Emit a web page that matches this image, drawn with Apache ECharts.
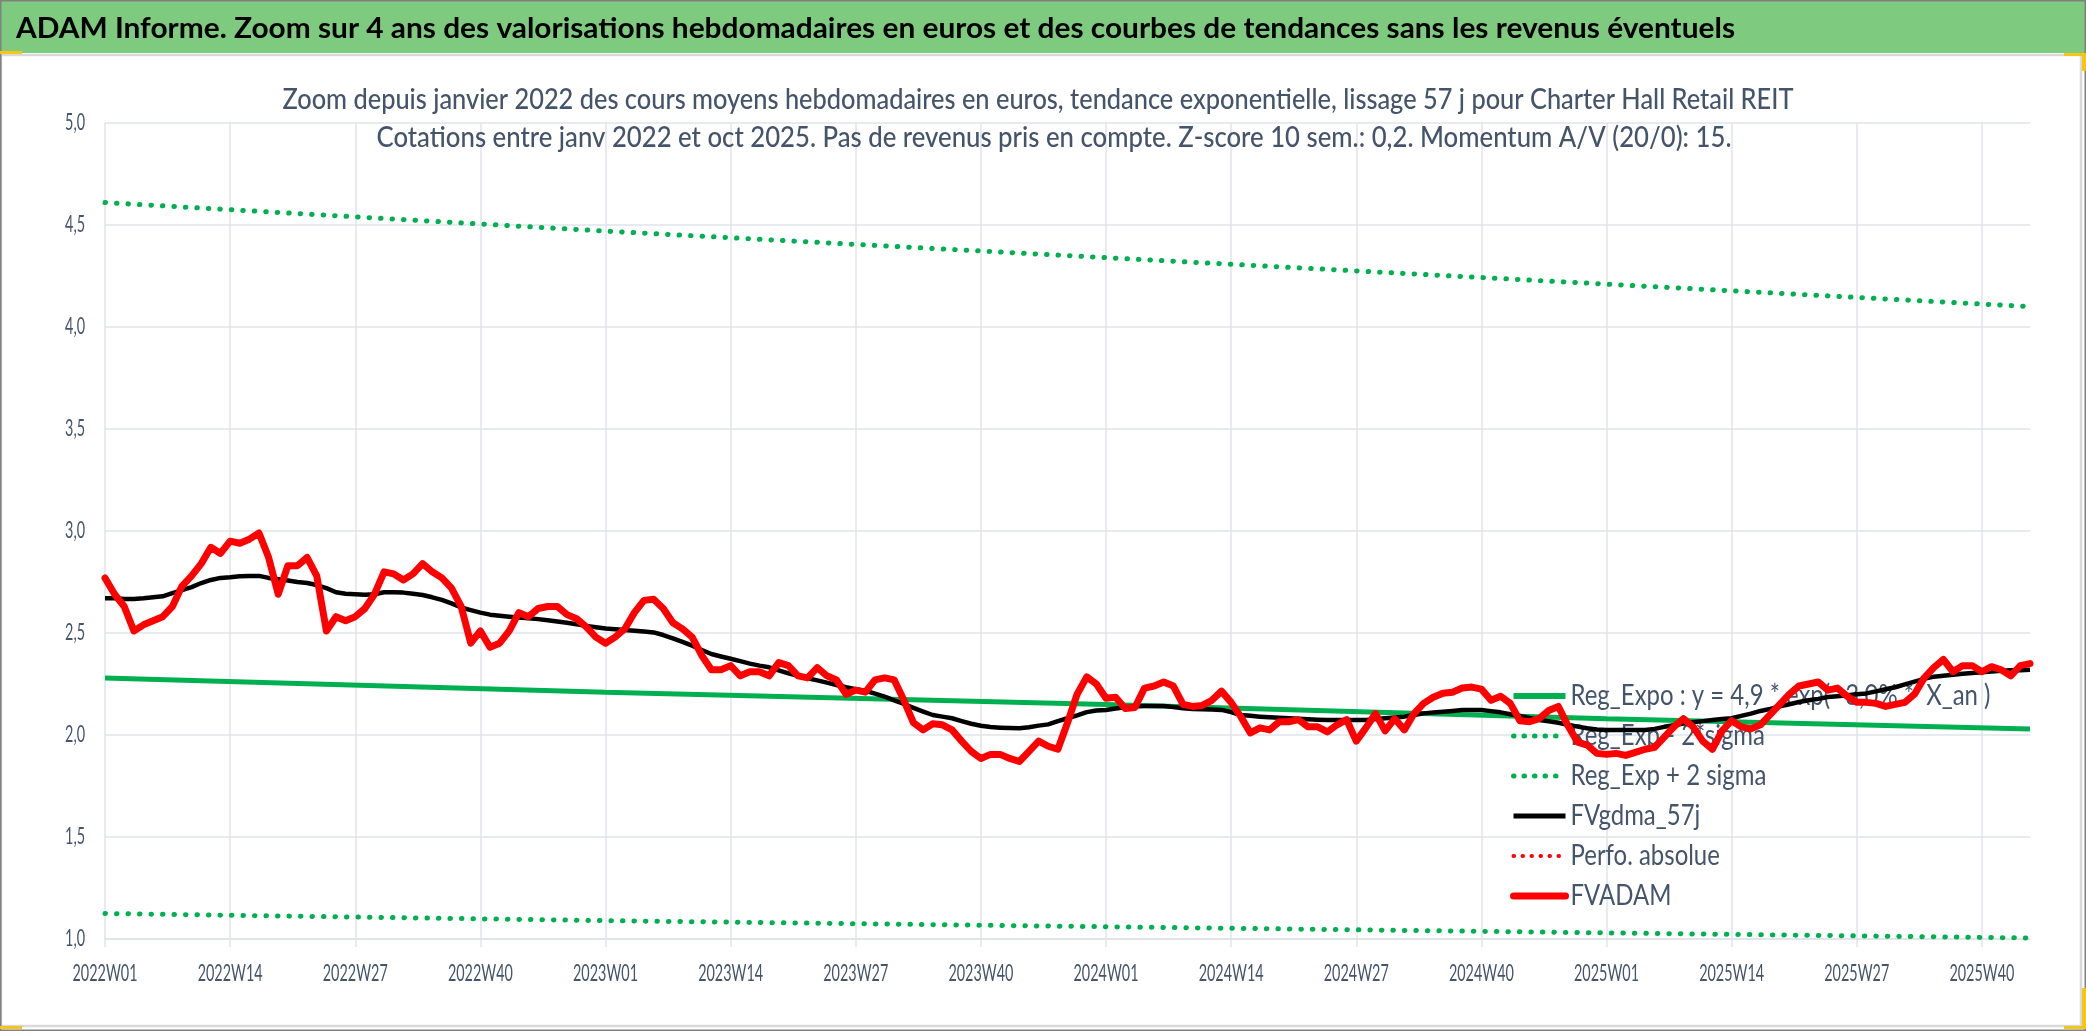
<!DOCTYPE html>
<html>
<head>
<meta charset="utf-8">
<script src="https://cdn.jsdelivr.net/npm/echarts@6/dist/echarts.min.js"></script>
<style>html,body{margin:0;padding:0;background:#fff;overflow:hidden}#c{width:2086px;height:1031px}</style>
</head>
<body>
<div id="c"></div>
<script>
// ---------- data ----------
const years = [2022, 2023, 2024, 2025];
const weeksInYear = [52, 52, 52, 45];

const fvadam = [
 2.77,2.69,2.63,2.51,2.54,2.56,2.58,2.63,2.73,2.78,
 2.84,2.92,2.89,2.95,2.94,2.96,2.99,2.87,2.69,2.83,
 2.83,2.87,2.78,2.51,2.58,2.56,2.58,2.62,2.69,2.80,
 2.79,2.76,2.79,2.84,2.80,2.77,2.72,2.63,2.45,2.51,
 2.43,2.45,2.51,2.60,2.58,2.62,2.63,2.63,2.59,2.57,
 2.53,2.48,2.45,2.48,2.52,2.60,2.66,2.665,2.62,2.55,
 2.52,2.48,2.39,2.32,2.32,2.34,2.29,2.31,2.31,2.29,
 2.355,2.34,2.29,2.28,2.33,2.29,2.27,2.20,2.22,2.21,
 2.27,2.28,2.27,2.17,2.06,2.025,2.055,2.05,2.025,1.97,
 1.92,1.885,1.905,1.905,1.885,1.87,1.92,1.97,1.945,1.93,
 2.06,2.20,2.285,2.25,2.18,2.185,2.13,2.135,2.23,2.24,
 2.26,2.24,2.15,2.14,2.145,2.17,2.215,2.16,2.09,2.01,
 2.035,2.025,2.065,2.065,2.075,2.04,2.04,2.015,2.05,2.075,
 1.97,2.035,2.105,2.02,2.08,2.025,2.105,2.155,2.185,2.205,
 2.21,2.23,2.235,2.225,2.17,2.19,2.155,2.07,2.065,2.08,
 2.12,2.14,2.045,1.965,1.95,1.91,1.905,1.91,1.90,1.915,
 1.93,1.94,1.99,2.04,2.08,2.04,1.97,1.93,2.02,2.07,
 2.04,2.03,2.05,2.10,2.15,2.20,2.24,2.25,2.26,2.22,
 2.23,2.19,2.16,2.16,2.155,2.14,2.15,2.16,2.20,2.28,
 2.33,2.37,2.31,2.34,2.34,2.31,2.335,2.32,2.29,2.34,
 2.35
];

const fvgdma57j = [
 2.67,2.67,2.667,2.667,2.67,2.675,2.68,2.695,2.71,2.725,
 2.745,2.76,2.77,2.773,2.778,2.78,2.78,2.77,2.763,2.757,
 2.75,2.745,2.735,2.72,2.70,2.692,2.69,2.688,2.69,2.70,
 2.70,2.698,2.692,2.686,2.675,2.662,2.645,2.625,2.612,2.60,
 2.59,2.585,2.58,2.576,2.572,2.568,2.562,2.556,2.55,2.543,
 2.535,2.528,2.522,2.518,2.515,2.511,2.507,2.503,2.49,2.474,
 2.456,2.438,2.417,2.397,2.385,2.374,2.362,2.35,2.34,2.332,
 2.317,2.302,2.29,2.278,2.268,2.257,2.245,2.234,2.225,2.217,
 2.203,2.188,2.17,2.152,2.133,2.115,2.098,2.09,2.082,2.068,
 2.055,2.045,2.039,2.036,2.034,2.033,2.038,2.046,2.052,2.068,
 2.082,2.096,2.112,2.12,2.123,2.13,2.136,2.14,2.142,2.142,
 2.142,2.137,2.131,2.128,2.126,2.125,2.123,2.112,2.098,2.094,
 2.09,2.087,2.085,2.082,2.08,2.077,2.075,2.074,2.074,2.074,
 2.074,2.074,2.078,2.082,2.086,2.09,2.098,2.106,2.11,2.114,
 2.118,2.123,2.123,2.123,2.117,2.111,2.102,2.093,2.083,2.074,
 2.067,2.06,2.05,2.041,2.033,2.027,2.025,2.025,2.025,2.025,
 2.025,2.03,2.04,2.048,2.056,2.063,2.068,2.073,2.078,2.082,
 2.094,2.105,2.118,2.128,2.14,2.151,2.162,2.17,2.177,2.186,
 2.19,2.195,2.2,2.204,2.214,2.224,2.234,2.248,2.262,2.275,
 2.286,2.29,2.295,2.3,2.304,2.307,2.311,2.315,2.317,2.318,
 2.32
];

// trend lines read at the year gridlines and at the last week
const trendWeeks = ['2022W01', '2023W01', '2024W01', '2025W01', '2025W45'];
const regExpo = [2.28, 2.21, 2.15, 2.08, 2.03];
const regExpMinus2Sigma = [1.125, 1.09, 1.06, 1.03, 1.005];
const regExpPlus2Sigma = [4.61, 4.47, 4.34, 4.21, 4.10];
const perfoAbsolue = [];

const seriesNames = [
  'Reg_Expo : y = 4,9 * exp( -3,0% *  X_an )',
  'Reg_Exp - 2*sigma',
  'Reg_Exp + 2 sigma',
  'FVgdma_57j',
  'Perfo. absolue',
  'FVADAM'
];

const bannerTitle = 'ADAM Informe. Zoom sur 4 ans des valorisations hebdomadaires en euros et des courbes de tendances sans les revenus éventuels';
const subLine1 = 'Zoom depuis janvier 2022 des cours moyens hebdomadaires en euros, tendance exponentielle, lissage 57 j pour Charter Hall Retail REIT';
const subLine2 = 'Cotations entre janv 2022 et oct 2025. Pas de revenus pris en compte. Z-score 10 sem.: 0,2. Momentum A/V (20/0): 15.';

// ---------- build ----------
const categories = [];
years.forEach((y, i) => {
  for (let w = 1; w <= weeksInYear[i]; w++) categories.push(y + 'W' + (w < 10 ? '0' + w : w));
});
const pairs = (vals) => trendWeeks.map((c, i) => [c, vals[i]]);

const FONT = "Lato,'Noto Sans',sans-serif";
const mctx = document.createElement('canvas').getContext('2d');
function textW(text, weight, size) { mctx.font = weight + ' ' + size + 'px ' + FONT; return mctx.measureText(text).width; }

const TITLE_SIZE = 29, SUB_SIZE = 28, AXIS_SIZE = 23, LEG_SIZE = 28;
const SUB_WEIGHT = '500';
const titleScale = 1719 / textW(bannerTitle, 'bold', TITLE_SIZE);
const subScale1 = 1511 / textW(subLine1, SUB_WEIGHT, SUB_SIZE);
const subScale2 = 1355 / textW(subLine2, SUB_WEIGHT, SUB_SIZE);
const axisScale = 65 / textW('2022W01', 'normal', AXIS_SIZE);
const legScale = 420 / textW(seriesNames[0], 'normal', LEG_SIZE);

const TXT = '#44546A';
const GRID = '#dfe3e9';
const GREEN = '#00B050';
const RED = '#FF0000';
const DOT = [0.5, 11];

const chart = echarts.init(document.getElementById('c'), null, {renderer: 'canvas'});
chart.setOption({
  animation: false,
  backgroundColor: '#ffffff',
  grid: {left: 105, right: 56, top: 123, bottom: 92},
  xAxis: {
    type: 'category', data: categories, boundaryGap: false,
    axisLine: {lineStyle: {color: GRID, width: 1.5}},
    axisTick: {interval: 12, length: 8, lineStyle: {color: GRID, width: 1.5}},
    axisLabel: {interval: 12, margin: 23, fontFamily: FONT, fontSize: AXIS_SIZE, color: TXT},
    splitLine: {show: true, interval: 12, lineStyle: {color: GRID, width: 1.5}}
  },
  yAxis: {
    type: 'value', min: 1, max: 5, interval: 0.5,
    axisLine: {show: false}, axisTick: {show: false},
    axisLabel: {margin: 20, fontFamily: FONT, fontSize: AXIS_SIZE, color: TXT,
      formatter: v => v.toFixed(1).replace('.', ',')},
    splitLine: {lineStyle: {color: GRID, width: 1.5}}
  },
  legend: {
    orient: 'vertical', left: 1505, top: 677, z: 1,
    itemWidth: 52, itemHeight: 14, itemGap: 12,
    itemStyle: {opacity: 0},
    textStyle: {fontFamily: FONT, fontSize: LEG_SIZE, color: TXT, lineHeight: 28},
    data: [
      {name: seriesNames[0], lineStyle: {width: 6, color: GREEN}},
      {name: seriesNames[1], lineStyle: {width: 5, color: GREEN, type: [0.5, 10], cap: 'round'}},
      {name: seriesNames[2], lineStyle: {width: 5, color: GREEN, type: [0.5, 10], cap: 'round'}},
      {name: seriesNames[3], lineStyle: {width: 5, color: '#000000'}},
      {name: seriesNames[4], lineStyle: {width: 4, color: RED, type: [0.5, 8.5], cap: 'round'}},
      {name: seriesNames[5], lineStyle: {width: 7, color: RED}}
    ]
  },
  series: [
    {name: seriesNames[0], type: 'line', data: pairs(regExpo), symbol: 'none', z: 3,
     color: GREEN, lineStyle: {color: GREEN, width: 5}},
    {name: seriesNames[1], type: 'line', data: pairs(regExpMinus2Sigma), symbol: 'none', z: 3,
     color: GREEN, lineStyle: {color: GREEN, width: 5, type: DOT, cap: 'round'}},
    {name: seriesNames[2], type: 'line', data: pairs(regExpPlus2Sigma), symbol: 'none', z: 3,
     color: GREEN, lineStyle: {color: GREEN, width: 5, type: DOT, cap: 'round'}},
    {name: seriesNames[3], type: 'line', data: fvgdma57j, symbol: 'none', z: 4,
     color: '#000000', lineStyle: {color: '#000000', width: 4.5, join: 'round'}},
    {name: seriesNames[4], type: 'line', data: perfoAbsolue, symbol: 'none', z: 4,
     color: RED, lineStyle: {color: RED, width: 4, type: [0.5, 8.5], cap: 'round'}},
    {name: seriesNames[5], type: 'line', data: fvadam, symbol: 'none', z: 5,
     color: RED, lineStyle: {color: RED, width: 7, join: 'round', cap: 'round'}}
  ],
  graphic: [
    {type: 'rect', z: -10, silent: true, shape: {x: 0, y: 0, width: 2086, height: 53}, style: {fill: '#7ECA7E'}},
    {type: 'rect', z: 10, silent: true, shape: {x: 1, y: 55, width: 2080, height: 971}, style: {fill: 'none', stroke: '#d9d9d9', lineWidth: 2.5}},
    {type: 'rect', z: 10, silent: true, shape: {x: 0.75, y: 0.75, width: 2084.5, height: 1029.5}, style: {fill: 'none', stroke: '#808080', lineWidth: 1.5}},
    {type: 'text', z: 11, silent: true, x: 16, y: 29, scaleX: titleScale,
     style: {text: bannerTitle, x: 0, y: 0, align: 'left', verticalAlign: 'middle',
      font: 'bold ' + TITLE_SIZE + 'px ' + FONT, fill: '#000000'}},
    {type: 'text', z: 11, silent: true, x: 1038, y: 100, scaleX: subScale1,
     style: {text: subLine1, x: 0, y: 0, align: 'center', verticalAlign: 'middle',
      font: SUB_WEIGHT + ' ' + SUB_SIZE + 'px ' + FONT, fill: TXT}},
    {type: 'text', z: 11, silent: true, x: 1054, y: 138, scaleX: subScale2,
     style: {text: subLine2, x: 0, y: 0, align: 'center', verticalAlign: 'middle',
      font: SUB_WEIGHT + ' ' + SUB_SIZE + 'px ' + FONT, fill: TXT}},
    {type: 'rect', z: 12, silent: true, shape: {x: 0, y: 51, width: 22, height: 3}, style: {fill: '#F5C518'}},
    {type: 'rect', z: 12, silent: true, shape: {x: 2064, y: 53, width: 22, height: 3}, style: {fill: '#F5C518'}},
    {type: 'rect', z: 12, silent: true, shape: {x: 2082, y: 53, width: 4, height: 18}, style: {fill: '#F5C518'}},
    {type: 'rect', z: 12, silent: true, shape: {x: 0, y: 1026, width: 22, height: 3}, style: {fill: '#F5C518'}},
    {type: 'rect', z: 12, silent: true, shape: {x: 2082, y: 988, width: 4, height: 41}, style: {fill: '#F5C518'}},
    {type: 'rect', z: 12, silent: true, shape: {x: 2064, y: 1026, width: 22, height: 3}, style: {fill: '#F5C518'}}
  ]
});

// condense axis and legend texts horizontally (narrow font look of the reference)
const axisRe = /^(\d{4}W\d\d|\d,\d)$/;
function squeeze() {
  const zr = chart.getZr();
  zr.storage.traverse(function (el) {
    if (el.type !== 'text' || !el.style || el.__sq) return;
    const t = String(el.style.text);
    let s = 0;
    if (axisRe.test(t)) s = axisScale;
    else if (seriesNames.indexOf(t) >= 0) s = legScale;
    if (!s) return;
    el.originX = el.style.x || 0;
    el.originY = el.style.y || 0;
    el.scaleX = s;
    el.__sq = true;
    el.markRedraw && el.markRedraw();
  });
  zr.refreshImmediately();
}
squeeze();
chart.on('finished', squeeze);
</script>
</body>
</html>
